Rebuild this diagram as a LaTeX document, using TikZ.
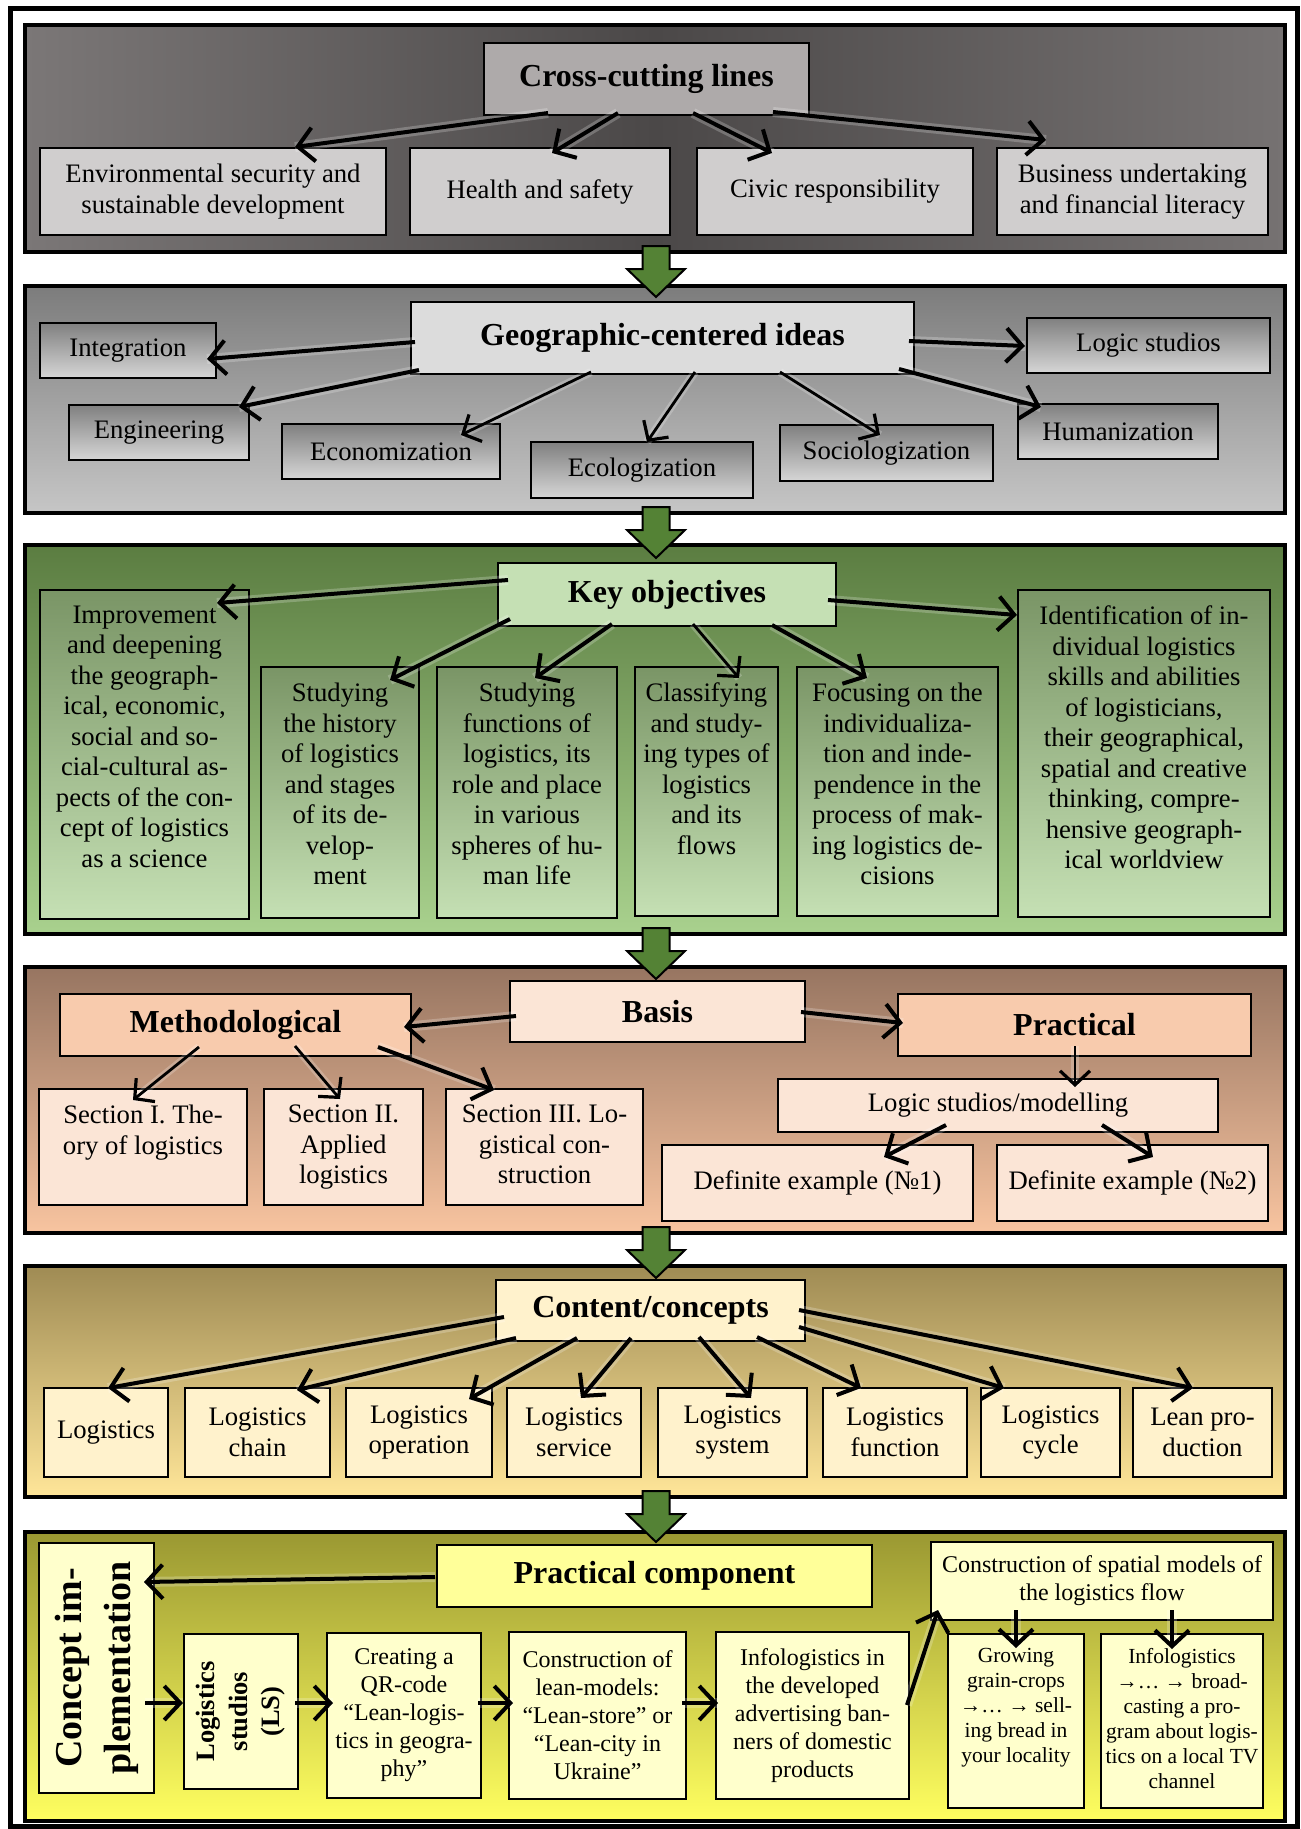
\documentclass[tikz,border=0pt]{standalone}
\usepackage{fontspec}
\setmainfont{Liberation Serif}
\usetikzlibrary{arrows.meta,calc}
\definecolor{pAl}{HTML}{7B7777}
\definecolor{pAm}{HTML}{4B4848}
\definecolor{pAr}{HTML}{767272}
\definecolor{crossc}{HTML}{AEAAAA}
\definecolor{lgc}{HTML}{D0CECE}
\definecolor{pBt}{HTML}{7C7C7C}
\definecolor{pBb}{HTML}{C6C6C6}
\definecolor{geoc}{HTML}{DCDCDC}
\definecolor{sBt}{HTML}{808080}
\definecolor{sBb}{HTML}{D6D6D6}
\definecolor{pCt}{HTML}{5B7D41}
\definecolor{pCb}{HTML}{A9D18E}
\definecolor{keyc}{HTML}{C5E0B4}
\definecolor{sCt}{HTML}{7A9566}
\definecolor{sCb}{HTML}{C5E0B4}
\definecolor{pDt}{HTML}{977561}
\definecolor{pDb}{HTML}{F8C4A0}
\definecolor{peach}{HTML}{FBE5D6}
\definecolor{peachd}{HTML}{F8CBAD}
\definecolor{pEt}{HTML}{9F8B54}
\definecolor{pEb}{HTML}{FFE699}
\definecolor{cream}{HTML}{FFF2CC}
\definecolor{pFt}{HTML}{9A9832}
\definecolor{pFb}{HTML}{FFFF60}
\definecolor{yel}{HTML}{FFFF99}
\definecolor{lyel}{HTML}{FFFFCC}
\definecolor{garrc}{HTML}{548235}
\newcommand\fntN{\fontsize{26.7}{30.5}\selectfont}
\newcommand\fntT{\fontsize{32}{36}\selectfont\bfseries}
\newcommand\fntS{\fontsize{24}{28}\selectfont}
\newcommand\fntX{\fontsize{21.5}{25}\selectfont}
\newcommand\fntC{\fontsize{38}{49}\selectfont\bfseries}
\newcommand\fntL{\fontsize{26.5}{32.5}\selectfont\bfseries}
% [style]{name}{x1}{y1}{x2}{y2}{text}
\newcommand\bx[7][]{%
  \node[box,#1,minimum width={(#5-#3)*1pt},minimum height={(#6-#4)*1pt}] (#2) at ({(#3+#5)/2},{(#4+#6)/2}) {#7};}
\newcommand\garrow[1]{%
  \draw[garr] ([shift={(-12.5,-6)}]#1.south) -- ++(27,0) -- ++(0,23) -- ++(15.5,0) -- ++(-29,28) -- ++(-29,-28) -- ++(15.5,0) -- cycle;}
\begin{document}
\begin{tikzpicture}[x=1pt,y=-1pt,
  box/.style={draw=black,line width=1.5pt,rectangle,outer sep=0pt,inner sep=0pt,align=center,font=\fntN},
  panel/.style={line width=4pt},
  txt/.style={inner sep=0pt,outer sep=0pt,align=center,font=\fntN},
  arr/.style={line width=4pt,-{Straight Barb[length=16pt,width=34pt,line width=4pt]},
    preaction={draw=white,draw opacity=0.22,line width=10pt,-}},
  arrt/.style={line width=2.8pt,-{Straight Barb[length=14pt,width=30pt,line width=3.2pt]},
    preaction={draw=white,draw opacity=0.22,line width=8pt,-}},
  garr/.style={fill=garrc,draw=black,line width=2pt,line join=miter}]
\useasboundingbox (0,0) rectangle (1301,1829);
\fill[white] (0,0) rectangle (1301,1829);
\draw[line width=5pt] (10,8) rectangle (1297,1826);

% ---------- panels ----------
\bx[panel,left color=pAl,right color=pAr,middle color=pAm]{p1}{25}{25}{1285}{252}{}
\bx[panel,top color=pBt,bottom color=pBb]{p2}{25}{286}{1285}{513}{}
\bx[panel,top color=pCt,bottom color=pCb]{p3}{25}{545}{1285}{934}{}
\bx[panel,top color=pDt,bottom color=pDb]{p4}{25}{967}{1285}{1233}{}
\bx[panel,top color=pEt,bottom color=pEb]{p5}{25}{1266}{1285}{1497}{}
\bx[panel,top color=pFt,bottom color=pFb]{p6}{25}{1532}{1285}{1821}{}
\garrow{p1}
\garrow{p2}
\garrow{p3}
\garrow{p4}
\garrow{p5}

% ---------- panel 1 ----------
\bx[fill=crossc,font=\fntT]{cross}{484}{43}{809}{115}{Cross-cutting lines}
\bx[fill=lgc]{env}{40}{148}{386}{235}{Environmental security and\\sustainable development}
\bx[fill=lgc]{health}{410}{148}{670}{235}{Health and safety}
\bx[fill=lgc]{civic}{697}{148}{973}{235}{Civic responsibility}
\bx[fill=lgc]{bus}{997}{148}{1268}{235}{Business undertaking\\and financial literacy}
\draw[arr] ([shift={(-98.5,34)}]cross.center) -- ([shift={(82,-44.5)}]env.center);
\draw[arr] ([shift={(-28.5,34)}]cross.center) -- ([shift={(12,-38.5)}]health.center);
\draw[arr] ([shift={(46.5,34)}]cross.center) -- ([shift={(-63,-38.5)}]civic.center);
\draw[arr] ([shift={(126.5,33)}]cross.center) -- ([shift={(-86.5,-51.5)}]bus.center);

% ---------- panel 2 ----------
\bx[fill=geoc,font=\fntT]{geo}{411}{302}{914}{374}{Geographic-centered ideas}
\bx[top color=sBt,bottom color=sBb]{integ}{40}{323}{216}{378}{Integration}
\bx[top color=sBt,bottom color=sBb]{logic}{1027}{318}{1270}{373}{Logic studios}
\bx[top color=sBt,bottom color=sBb]{engin}{69}{405}{249}{460}{Engineering}
\bx[top color=sBt,bottom color=sBb]{econ}{282}{424}{500}{479}{Economization}
\bx[top color=sBt,bottom color=sBb]{ecol}{531}{442}{753}{498}{Ecologization}
\bx[top color=sBt,bottom color=sBb]{socio}{780}{425}{993}{481}{Sociologization}
\bx[top color=sBt,bottom color=sBb]{human}{1018}{404}{1218}{459}{Humanization}
\draw[arr] ([shift={(-247.5,4)}]geo.center) -- ([shift={(79,8.5)}]integ.center);
\draw[arr] ([shift={(246.5,3)}]geo.center) -- ([shift={(-123.5,0.5)}]logic.center);
\draw[arr] ([shift={(-243.5,32)}]geo.center) -- ([shift={(80,-25.5)}]engin.center);
\draw[arrt] ([shift={(-71.5,34)}]geo.center) -- ([shift={(70,-16.5)}]econ.center);
\draw[arrt] ([shift={(32.5,34)}]geo.center) -- ([shift={(5,-28)}]ecol.center);
\draw[arrt] ([shift={(117.5,34)}]geo.center) -- ([shift={(-6.5,-18)}]socio.center);
\draw[arr] ([shift={(236.5,31)}]geo.center) -- ([shift={(-77,-24.5)}]human.center);

% ---------- panel 3 ----------
\bx[fill=keyc,font=\fntT]{key}{498}{563}{836}{626}{Key objectives}
\bx[top color=sCt,bottom color=sCb]{impr}{40}{590}{249}{919}{}
\bx[top color=sCt,bottom color=sCb]{hist}{261}{667}{419}{918}{}
\bx[top color=sCt,bottom color=sCb]{func}{437}{667}{617}{918}{}
\bx[top color=sCt,bottom color=sCb]{clas}{635}{667}{778}{916}{}
\bx[top color=sCt,bottom color=sCb]{focus}{797}{667}{998}{916}{}
\bx[top color=sCt,bottom color=sCb]{ident}{1018}{590}{1270}{917}{}
\node[txt,anchor=north] (impr-t) at ([yshift=-16pt]impr.north) {Improvement\\and deepening\\the geograph-\\ical, economic,\\social and so-\\cial-cultural as-\\pects of the con-\\cept of logistics\\as a science};
\node[txt,anchor=north] (hist-t) at ([yshift=-16pt]hist.north) {Studying\\the history\\of logistics\\and stages\\of its de-\\velop-\\ment};
\node[txt,anchor=north] (func-t) at ([yshift=-16pt]func.north) {Studying\\functions of\\logistics, its\\role and place\\in various\\spheres of hu-\\man life};
\node[txt,anchor=north] (clas-t) at ([yshift=-16pt]clas.north) {Classifying\\and study-\\ing types of\\logistics\\and its\\flows};
\node[txt,anchor=north] (focus-t) at ([yshift=-16pt]focus.north) {Focusing on the\\individualiza-\\tion and inde-\\pendence in the\\process of mak-\\ing logistics de-\\cisions};
\node[txt,anchor=north] (ident-t) at ([yshift=-16pt]ident.north) {Identification of in-\\dividual logistics\\skills and abilities\\of logisticians,\\their geographical,\\spatial and creative\\thinking, compre-\\hensive geograph-\\ical worldview};
\draw[arr] ([shift={(-159,-14.5)}]key.center) -- ([shift={(72.5,-151.5)}]impr.center);
\draw[arr] ([shift={(161,5.5)}]key.center) -- ([shift={(-127,-138.5)}]ident.center);
\draw[arr] ([shift={(-157,24.5)}]key.center) -- ([shift={(50,-112.5)}]hist.center);
\draw[arr] ([shift={(-55,29.5)}]key.center) -- ([shift={(8,-114.5)}]func.center);
\draw[arrt] ([shift={(26,29.5)}]key.center) -- ([shift={(32.5,-113.5)}]clas.center);
\draw[arr] ([shift={(105,30.5)}]key.center) -- ([shift={(-30.5,-113.5)}]focus.center);

% ---------- panel 4 ----------
\bx[fill=peach,font=\fntT]{basis}{510}{981}{805}{1042}{Basis}
\bx[fill=peachd,font=\fntT]{meth}{60}{994}{411}{1056}{Methodological}
\bx[fill=peachd,font=\fntT]{prac}{898}{994}{1251}{1056}{Practical}
\bx[fill=peach]{sec1}{39}{1089}{247}{1205}{}
\bx[fill=peach]{sec2}{264}{1089}{423}{1205}{}
\bx[fill=peach]{sec3}{446}{1089}{643}{1205}{}
\node[txt,anchor=north] (sec1-t) at ([yshift=-16pt]sec1.north) {Section I. The-\\ory of logistics};
\node[txt,anchor=north] (sec2-t) at ([yshift=-16pt]sec2.north) {Section II.\\Applied\\logistics};
\node[txt,anchor=north] (sec3-t) at ([yshift=-16pt]sec3.north) {Section III. Lo-\\gistical con-\\struction};
\bx[fill=peach]{lsm}{778}{1079}{1218}{1132}{Logic studios/modelling}
\bx[fill=peach]{def1}{662}{1145}{973}{1221}{Definite example (№1)}
\bx[fill=peach]{def2}{997}{1145}{1268}{1221}{Definite example (№2)}
\draw[arr] ([shift={(-141.5,4.5)}]basis.center) -- ([shift={(168.5,2)}]meth.center);
\draw[arr] ([shift={(143.5,0.5)}]basis.center) -- ([shift={(-171.5,-2)}]prac.center);
\draw[arrt] ([shift={(-36.5,22)}]meth.center) -- ([shift={(-10,-47)}]sec1.center);
\draw[arrt] ([shift={(59.5,21)}]meth.center) -- ([shift={(-3.5,-48)}]sec2.center);
\draw[arr] ([shift={(142.5,22)}]meth.center) -- ([shift={(-50.5,-57)}]sec3.center);
\draw[arrt] ([shift={(0.5,21)}]prac.center) -- ([shift={(77,-18.5)}]lsm.center);
\draw[arr] ([shift={(-52,19.5)}]lsm.center) -- ([shift={(66.5,-26)}]def1.center);
\draw[arr] ([shift={(104,19.5)}]lsm.center) -- ([shift={(20.5,-26)}]def2.center);

% ---------- panel 5 ----------
\bx[fill=cream,font=\fntT]{cont}{496}{1280}{805}{1341}{Content/concepts}
\bx[fill=cream]{c1}{44}{1388}{168}{1477}{Logistics}
\bx[fill=cream]{c2}{185}{1388}{330}{1477}{Logistics\\chain}
\bx[fill=cream]{c3}{346}{1388}{492}{1477}{Logistics\\operation}
\bx[fill=cream]{c4}{507}{1388}{641}{1477}{Logistics\\service}
\bx[fill=cream]{c5}{658}{1388}{807}{1477}{Logistics\\system}
\bx[fill=cream]{c6}{823}{1388}{967}{1477}{Logistics\\function}
\bx[fill=cream]{c7}{981}{1388}{1120}{1477}{Logistics\\cycle}
\bx[fill=cream]{c8}{1133}{1388}{1272}{1477}{Lean pro-\\duction}
\draw[arr] ([shift={(-146.5,6.5)}]cont.center) -- ([shift={(2,-44.5)}]c1.center);
\draw[arr] ([shift={(-134.5,27.5)}]cont.center) -- ([shift={(39.5,-42.5)}]c2.center);
\draw[arr] ([shift={(-73.5,27.5)}]cont.center) -- ([shift={(50,-33.5)}]c3.center);
\draw[arr] ([shift={(-19.5,27.5)}]cont.center) -- ([shift={(7,-34.5)}]c4.center);
\draw[arr] ([shift={(48.5,26.5)}]cont.center) -- ([shift={(18.5,-34.5)}]c5.center);
\draw[arr] ([shift={(106.5,26.5)}]cont.center) -- ([shift={(-34,-44.5)}]c6.center);
\draw[arr] ([shift={(148.5,16.5)}]cont.center) -- ([shift={(-46.5,-44.5)}]c7.center);
\draw[arr] ([shift={(148.5,-0.5)}]cont.center) -- ([shift={(-9.5,-44.5)}]c8.center);

% ---------- panel 6 ----------
\bx[fill=yel,font=\fntT]{pcomp}{437}{1545}{872}{1607}{Practical component}
\bx[fill=lyel]{cimp}{39}{1543}{154}{1793}{}
\node[txt,rotate=90,font=\fntC] (cimp-t) at (cimp.center) {Concept im-\\plementation};
\bx[fill=lyel]{ls}{184}{1634}{298}{1789}{}
\node[txt,rotate=90,font=\fntL] (ls-t) at (ls.center) {Logistics\\studios\\(LS)};
\bx[fill=lyel,font=\fntS]{qr}{327}{1633}{481}{1798}{Creating a\\QR-code\\“Lean-logis-\\tics in geogra-\\phy”}
\bx[fill=lyel,font=\fntS]{lean}{509}{1632}{686}{1799}{Construction of\\lean-models:\\“Lean-store” or\\“Lean-city in\\Ukraine”}
\bx[fill=lyel,font=\fntS]{info}{716}{1632}{909}{1799}{Infologistics in\\the developed\\advertising ban-\\ners of domestic\\products}
\bx[fill=lyel,font=\fntS]{spat}{931}{1542}{1273}{1620}{Construction of spatial models of\\the logistics flow}
\bx[fill=lyel]{grow}{948}{1634}{1084}{1808}{}
\bx[fill=lyel]{tv}{1101}{1634}{1263}{1808}{}
\node[txt,anchor=north,font=\fntX] (grow-t) at ([yshift=-14pt]grow.north) {Growing\\grain-crops\\→… → sell-\\ing bread in\\your locality};
\node[txt,anchor=north,font=\fntX] (tv-t) at ([yshift=-14pt]tv.north) {Infologistics\\→… → broad-\\casting a pro-\\gram about logis-\\tics on a local TV\\channel};
\draw[arr] ([shift={(-219.5,1)}]pcomp.center) -- ([shift={(47.5,-86)}]cimp.center);
\draw[arr] ([shift={(48.5,35)}]cimp.center) -- ([shift={(-58,-8.5)}]ls.center);
\draw[arr] ([shift={(54,-8.5)}]ls.center) -- ([shift={(-71,-12.5)}]qr.center);
\draw[arr] ([shift={(74,-12.5)}]qr.center) -- ([shift={(-84.5,-12.5)}]lean.center);
\draw[arr] ([shift={(84.5,-12.5)}]lean.center) -- ([shift={(-94.5,-12.5)}]info.center);
\draw[arr] ([shift={(94.5,-10.5)}]info.center) -- ([shift={(-164,29)}]spat.center);
\draw[arr] ([shift={(-86,29)}]spat.center) -- ([shift={(0,-73)}]grow.center);
\draw[arr] ([shift={(70,29)}]spat.center) -- ([shift={(-10,-72)}]tv.center);
\end{tikzpicture}
\end{document}
